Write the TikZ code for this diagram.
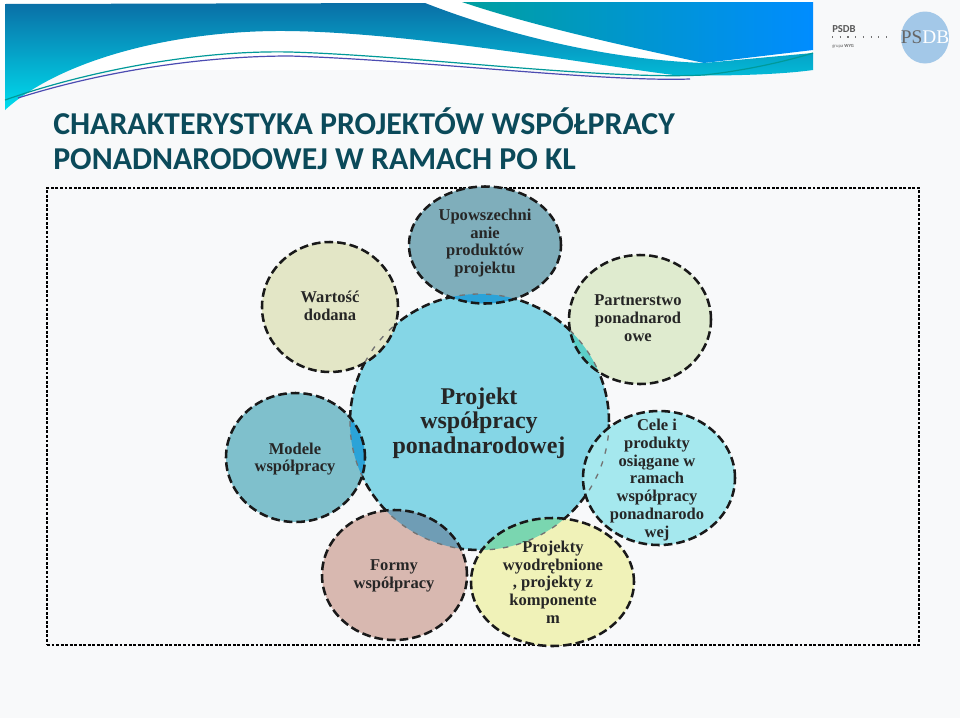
\documentclass[tikz,border=0pt]{standalone}
\usepackage{fontspec}
\setmainfont{Liberation Serif}
\newfontfamily\titlefont{Carlito}
\usepackage{xcolor}
\usetikzlibrary{shapes.geometric, positioning}

\definecolor{pagebg}{HTML}{F8F9FA}
\definecolor{titleteal}{HTML}{0B4A5A}
\definecolor{hubfill}{HTML}{85D6E6}
\definecolor{upowfill}{HTML}{7FAEBB}
\definecolor{wartfill}{HTML}{E3E6C6}
\definecolor{partfill}{HTML}{DFEBCF}
\definecolor{modfill}{HTML}{7FC0CC}
\definecolor{formfill}{HTML}{D8B8B0}
\definecolor{projfill}{HTML}{F0F2B8}
\definecolor{celefill}{HTML}{A5E8EE}
\definecolor{lensblue}{HTML}{2BA3D8}
\definecolor{lensteal}{HTML}{5CCFC8}
\definecolor{lensslate}{HTML}{6F9DB5}
\definecolor{lensgreen}{HTML}{7AD6B0}
\definecolor{bandtop}{HTML}{0A6FA6}
\definecolor{bandmid}{HTML}{0A95C4}
\definecolor{bandlow}{HTML}{00DDEE}
\definecolor{sealfill}{HTML}{A3C8E8}

\begin{document}
\begin{tikzpicture}[
    x=0.75pt, y=-0.75pt,
    bubble/.style={ellipse, inner sep=0pt, draw=black!90, line width=1.9pt, dash pattern=on 6.5pt off 3pt},
    lens/.style={path picture={
        \fill[#1] (hub.center) ellipse [x radius=129.5, y radius=128];
        \draw[black!55, line width=1pt, dash pattern=on 4pt off 6pt] (hub.center) ellipse [x radius=129.5, y radius=128];}},
    captext/.style={align=center, font=\fontsize{12.4pt}{13.3pt}\selectfont\bfseries, text=black!85},
    headtext/.style={anchor=west, inner sep=0pt, font=\titlefont\fontsize{23.9pt}{24pt}\selectfont\bfseries, text=titleteal},
]
\useasboundingbox (0,0) rectangle (960,718);
\fill[pagebg] (0,0) rectangle (960,718);
\fill[white] (0,0) rectangle (813,70);

% banner
\shade[top color=bandtop, middle color=bandmid, bottom color=bandlow]
    (5,4) -- (425,3) .. controls (520,40) and (620,60) .. (704,63) -- (813,53) -- (813,70)
    .. controls (770,76) and (700,76) .. (674,75)
    .. controls (600,66) and (400,30) .. (275,31)
    .. controls (170,32) and (60,60) .. (5,110) -- cycle;
\shade[left color=teal!75!cyan, right color=cyan!55!blue]
    (462,2) -- (813,2) -- (813,50) -- (704,63) .. controls (620,45) and (530,25) .. (462,2) -- cycle;
\draw[teal!80!cyan, line width=0.9pt] (5,100) .. controls (90,70) and (200,50) .. (290,52)
    .. controls (420,56) and (600,80) .. (704,75) .. controls (750,70) and (790,60) .. (813,53);
\draw[blue!40!gray, line width=0.9pt] (18,98) .. controls (100,72) and (200,56) .. (290,56)
    .. controls (420,60) and (600,82) .. (690,79);

% logo
\node[anchor=west, inner sep=0pt, font=\titlefont\fontsize{8pt}{9pt}\selectfont\bfseries, text=black!65] (psdb) at (832,29) {PSDB};
\draw[black!55, line width=0.8pt, dash pattern=on 0.8pt off 5pt] (832,37) -- (892,37);
\node[anchor=west, inner sep=0pt, font=\titlefont\fontsize{3.5pt}{4pt}\selectfont, text=black!60] (wyg) at (832,46) {grupa \textbf{WYG}};
\node[ellipse, inner sep=0pt, minimum width=36pt, minimum height=39pt, fill=sealfill] (seal) at (925,37.5) {};
\node[inner sep=0pt, font=\fontsize{14.5pt}{15pt}\selectfont, text=black!60] (seal-t) at (925,37.5) {PS\textcolor{white}{DB}};

% title
\node[headtext] (title1) at (53,121) {CHARAKTERYSTYKA PROJEKTÓW WSPÓŁPRACY};
\node[headtext] (title2) at (53,159) {PONADNARODOWEJ W RAMACH PO KL};

% frame
\node[rectangle, draw=black, line width=1.1pt, dash pattern=on 2.2pt off 1.2pt, minimum width=654pt, minimum height=342.75pt] (frame) at (483,416.5) {};

% bubbles
\node[bubble, minimum width=194.25pt, minimum height=192pt, fill=hubfill] (hub) at (479.5,422) {};
\node[bubble, minimum width=102pt, minimum height=97.5pt, fill=wartfill, lens=wartfill] (wartosc) at (330,307) {};
\node[bubble, minimum width=114pt, minimum height=87.75pt, fill=upowfill, lens=lensblue] (upow) at (485,245) {};
\node[bubble, minimum width=106.5pt, minimum height=96.75pt, fill=partfill, lens=lensteal] (partner) at (640,319.5) {};
\node[bubble, minimum width=104.25pt, minimum height=96.75pt, fill=modfill, lens=lensblue] (modele) at (295.5,457.5) {};
\node[bubble, minimum width=108.75pt, minimum height=97.5pt, fill=formfill, lens=lensslate] (formy) at (394.5,575) {};
\node[bubble, minimum width=122.25pt, minimum height=96pt, fill=projfill, lens=lensgreen] (projekty) at (552.5,582) {};
\node[bubble, minimum width=114pt, minimum height=100.5pt, fill=celefill, lens=celefill] (cele) at (659,478) {};

% captions
\node[captext] (wartosc-t) at (330,306) {Wartość\\dodana};
\node[captext] (upow-t) at (485,243) {Upowszechni\\anie\\produktów\\projektu};
\node[captext] (partner-t) at (638,318) {Partnerstwo\\ponadnarod\\owe};
\node[captext] (modele-t) at (295,459) {Modele\\współpracy};
\node[captext] (formy-t) at (394,576) {Formy\\współpracy};
\node[captext] (projekty-t) at (553,582) {Projekty\\wyodrębnione\\, projekty z\\komponente\\m};
\node[captext] (cele-t) at (657,480) {Cele i\\produkty\\osiągane w\\ramach\\współpracy\\ponadnarodo\\wej};
\node[captext, font=\fontsize{18pt}{18.4pt}\selectfont\bfseries] (hub-t) at (479,423) {Projekt\\współpracy\\ponadnarodowej};
\end{tikzpicture}
\end{document}
